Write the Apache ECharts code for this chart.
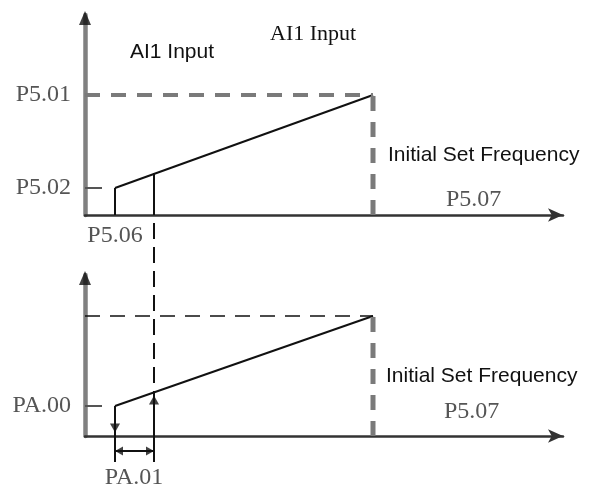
<!DOCTYPE html>
<html>
<head>
<meta charset="utf-8">
<script src="https://cdn.jsdelivr.net/npm/echarts@6/dist/echarts.min.js"></script>
<style>
  html, body { margin: 0; padding: 0; background: #fff; }
  #chart { width: 590px; height: 493px; }
</style>
</head>
<body>
<div id="chart"></div>
<script>
// values, in pixel-like units (1 unit ~ 1px)
const topCurve = [[30, 27], [288, 120]]      // P5.06/P5.02 -> P5.07/P5.01
const bottomCurve = [[30, 30], [288, 120]]   // PA.00 start
const topYTicks = [27, 120]
const topYNames = ['P5.02', 'P5.01']
const bottomYTicks = [30]
const bottomYNames = ['PA.00']
const topXTicks = [30]
const topXNames = ['P5.06']
const cutX = 69            // P5.06 + PA.01
const topCutY = 42
const bottomCutY = 43
const arrowsDown = [[30, 8]]
const arrowsUp = [[69, 36]]
const dimY = -15
const dimLow = -26
const linkTop = 221        // top panel x axis seen from bottom panel
const topMax = 200
const bottomMax = 161
const xMax = 478

const chart = echarts.init(document.getElementById('chart'))
const serif = '"Liberation Serif", "DejaVu Serif", serif'
const sans = '"Liberation Sans", Arial, sans-serif'

function axisX (idx, ticks, names) {
  return {
    type: 'value', gridIndex: idx, min: 0, max: xMax,
    splitLine: { show: false },
    axisLine: { lineStyle: { color: '#333', width: 2.5 }, symbol: ['none', 'arrow'], symbolSize: [10, 15] },
    axisTick: { show: false },
    axisLabel: {
      show: ticks.length > 0, customValues: ticks,
      formatter: v => names[ticks.indexOf(v)] || '',
      fontFamily: serif, fontSize: 24, color: '#555', margin: 9
    }
  }
}
function axisY (idx, max, ticks, names, tickVals) {
  return {
    type: 'value', gridIndex: idx, min: 0, max: max,
    splitLine: { show: false },
    axisLine: { lineStyle: { color: '#808080', width: 4.5 }, symbol: 'none' },
    axisTick: { show: true, inside: true, length: 17, customValues: tickVals, lineStyle: { color: '#555', width: 2 } },
    axisLabel: {
      customValues: ticks,
      formatter: v => names[ticks.indexOf(v)] || '',
      fontFamily: serif, fontSize: 24, color: '#555', margin: 14
    }
  }
}
function seg (xi, data, color, width, dash) {
  return {
    type: 'line', xAxisIndex: xi, yAxisIndex: xi, data: data,
    symbol: 'none', clip: false, silent: true, z: 3,
    lineStyle: { color: color, width: width, type: dash || 'solid' }
  }
}
function marks (xi, data, rotate, size) {
  return {
    type: 'scatter', xAxisIndex: xi, yAxisIndex: xi, data: data,
    symbol: 'triangle', symbolSize: size, symbolRotate: rotate, clip: false,
    silent: true, itemStyle: { color: '#111' }, z: 5
  }
}

const option = {
  animation: false,
  grid: [
    { left: 85, top: 215 - topMax, width: xMax, height: topMax },
    { left: 85, top: 436 - bottomMax, width: xMax, height: bottomMax }
  ],
  xAxis: [axisX(0, topXTicks, topXNames), axisX(1, [], [])],
  yAxis: [
    axisY(0, topMax, topYTicks, topYNames, [topYTicks[0]]),
    axisY(1, bottomMax, bottomYTicks, bottomYNames, bottomYTicks)
  ],
  series: [
    // top panel
    seg(0, topCurve, '#111', 2),
    seg(0, [[topCurve[0][0], 0], topCurve[0]], '#111', 2),
    seg(0, [[cutX, 0], [cutX, topCutY]], '#111', 2),
    seg(0, [[0, topCurve[1][1]], topCurve[1]], '#7a7a7a', 4, [15, 11]),
    seg(0, [[topCurve[1][0], 0], topCurve[1]], '#7a7a7a', 5, [15, 11]),
    marks(0, [[0, topMax - 3]], 0, [12, 14]),
    // bottom panel
    seg(1, bottomCurve, '#111', 2),
    seg(1, [[0, bottomCurve[1][1]], bottomCurve[1]], '#111', 1.5, [15, 10]),
    seg(1, [[bottomCurve[1][0], 0], bottomCurve[1]], '#7a7a7a', 5, [15, 11]),
    seg(1, [bottomCurve[0], [bottomCurve[0][0], dimLow]], '#111', 2),
    seg(1, [[cutX, bottomCutY], [cutX, dimLow]], '#111', 2),
    seg(1, [[cutX, linkTop - 8], [cutX, bottomCutY]], '#111', 2, [16, 8]),
    seg(1, [[bottomCurve[0][0], dimY], [cutX, dimY]], '#111', 2),
    marks(1, [[0, bottomMax - 3]], 0, [12, 14]),
    marks(1, arrowsDown, 180, [10, 9]),
    marks(1, arrowsUp, 0, [10, 9]),
    marks(1, [[bottomCurve[0][0] + 4, dimY]], 90, [9, 8]),
    marks(1, [[cutX - 4, dimY]], -90, [9, 8])
  ],
  graphic: [
    { type: 'text', x: 130, y: 52, style: { text: 'AI1 Input', font: '21px ' + sans, fill: '#111', verticalAlign: 'middle' } },
    { type: 'text', x: 270, y: 34, style: { text: 'AI1 Input', font: '22px ' + serif, fill: '#111', verticalAlign: 'middle' } },
    { type: 'text', x: 388, y: 155, style: { text: 'Initial Set Frequency', font: '21px ' + sans, fill: '#111', verticalAlign: 'middle' } },
    { type: 'text', x: 386, y: 376, style: { text: 'Initial Set Frequency', font: '21px ' + sans, fill: '#111', verticalAlign: 'middle' } },
    { type: 'text', x: 446, y: 200, style: { text: 'P5.07', font: '24px ' + serif, fill: '#555', verticalAlign: 'middle' } },
    { type: 'text', x: 444, y: 412, style: { text: 'P5.07', font: '24px ' + serif, fill: '#555', verticalAlign: 'middle' } },
    { type: 'text', x: 134, y: 478, style: { text: 'PA.01', font: '24px ' + serif, fill: '#555', align: 'center', verticalAlign: 'middle' } }
  ]
}
chart.setOption(option)
</script>
</body>
</html>
